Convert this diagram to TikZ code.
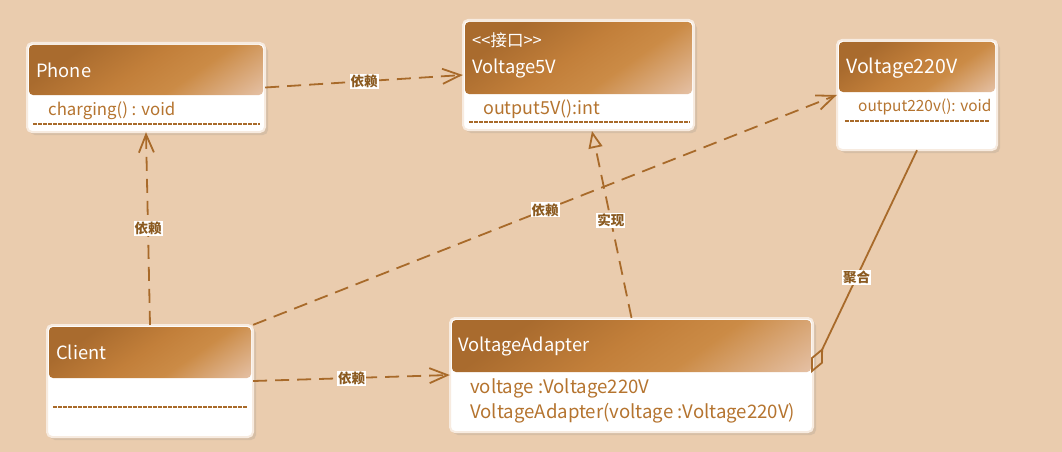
\documentclass[tikz,border=0pt]{standalone}
\usepackage{fontspec}
\setmainfont{Noto Sans CJK SC}
\usetikzlibrary{arrows.meta,shadows,fit}
\definecolor{bg}{HTML}{EACCAE}
\definecolor{hdark}{HTML}{A96B2E}
\definecolor{hmid}{HTML}{C27F3A}
\definecolor{hmid2}{HTML}{CB8B46}
\definecolor{hlight}{HTML}{E4BFA2}
\definecolor{btext}{HTML}{B5742F}
\definecolor{lnc}{HTML}{A86A2A}
\definecolor{lbl}{HTML}{8B5A20}
\definecolor{edge}{HTML}{F7EBE0}
\pgfdeclareverticalshading{hdr}{100bp}{color(0bp)=(hlight); color(16bp)=(hlight); color(38bp)=(hmid2); color(52bp)=(hmid); color(72bp)=(hdark); color(100bp)=(hdark)}
\tikzset{
  boxfill/.style={fill=white, draw=edge, line width=2pt, rounded corners=5pt,
    drop shadow={opacity=0.18, shadow xshift=3pt, shadow yshift=-3pt}},
  hdrfill/.style={shading=hdr, shading angle=35, rounded corners=4pt},
  htext/.style={anchor=west, text=white, font=\fontsize{18.3}{21}\selectfont, inner sep=0pt},
  stext/.style={anchor=west, text=white, font=\fontsize{16.5}{18}\selectfont, inner sep=0pt},
  btxt/.style={anchor=west, text=btext, font=\fontsize{16.8}{19}\selectfont, inner sep=0pt},
  sepline/.style={draw=lnc, line width=1.5pt, dash pattern=on 3.5pt off 1.5pt},
  dep/.style={draw=lnc, line width=1.8pt, dash pattern=on 14pt off 8pt,
    -{Straight Barb[length=18pt, width=15pt, line width=1.8pt]}},
  real/.style={draw=lnc, line width=1.8pt, dash pattern=on 14pt off 8pt,
    -{Triangle[open, length=17pt, width=14pt, line width=1.8pt]}},
  agg/.style={draw=lnc, line width=1.8pt,
    -{Diamond[open, length=28pt, width=13pt, line width=1.8pt]}},
  lab/.style={fill=white, text=lbl, inner sep=1pt, font=\bfseries\fontsize{13.5}{14}\selectfont},
  frame/.style={inner sep=0pt}
}
\newcommand{\umlclass}[6]{%
  \path[boxfill] (#2,#3) rectangle (#4,#5);
  \shade[hdrfill] (#2+2,#3+2) rectangle (#4-2,#6);
  \node[frame, fit={(#2,#3) (#4,#5)}] (#1) {};
}
\begin{document}
\begin{tikzpicture}[x=1pt,y=-1pt]
\fill[bg] (0,0) rectangle (1062,452);
\useasboundingbox (0,0) rectangle (1062,452);

% Phone
\umlclass{phone}{27}{43}{265}{132}{95}
\node[htext] (phonet) at (36,70) {Phone};
\node[btxt] (phonem) at (48,111) {charging() : void};
\path[sepline] (33,124) -- (260,124);

% Voltage5V
\umlclass{v5}{463}{20}{694}{130}{94}
\node[stext] (v5s) at (472,40) {{<}{<}接口{>}{>}};
\node[htext] (v5t) at (472,69) {Voltage5V};
\node[btxt, font=\fontsize{17.9}{20}\selectfont] (v5m) at (483,109) {output5V():int};
\path[sepline] (469,122) -- (690,122);

% Voltage220V
\umlclass{v220}{837}{40}{997}{150}{92}
\node[htext, font=\fontsize{19.5}{22}\selectfont] (v220t) at (846,68) {Voltage220V};
\node[btxt, font=\fontsize{15.4}{18}\selectfont] (v220m) at (858,107) {output220v(): void};
\path[sepline] (845,121) -- (990,121);

% Client
\umlclass{client}{47}{325}{253}{437}{378}
\node[htext] (clientt) at (56,352) {Client};
\path[sepline] (53,407) -- (248,407);

% VoltageAdapter
\umlclass{adapter}{450}{318}{813}{432}{372}
\node[htext] (adaptert) at (458,346) {VoltageAdapter};
\node[btxt, font=\fontsize{18.6}{22}\selectfont] (adapterm1) at (470,388) {voltage :Voltage220V};
\node[btxt, font=\fontsize{18.6}{22}\selectfont] (adapterm2) at (470,413) {VoltageAdapter(voltage :Voltage220V)};

% connectors
\coordinate (v5r) at (592,131);
\coordinate (adr) at (811,373);
\path[dep] (phone.east) -- node[lab, pos=0.5] {依赖} (v5.west);
\path[dep] (client.north) -- node[lab, pos=0.5] {依赖} (phone.south);
\path[dep] (client.north east) -- node[lab, pos=0.5] {依赖} (v220.west);
\path[dep] (client.east) -- node[lab, pos=0.5] {依赖} (adapter.west);
\path[real] (adapter.north) -- node[lab, pos=0.52] {实现} (v5r);
\path[agg] (v220.south) -- node[lab, pos=0.57] {聚合} (adr);
\end{tikzpicture}
\end{document}
